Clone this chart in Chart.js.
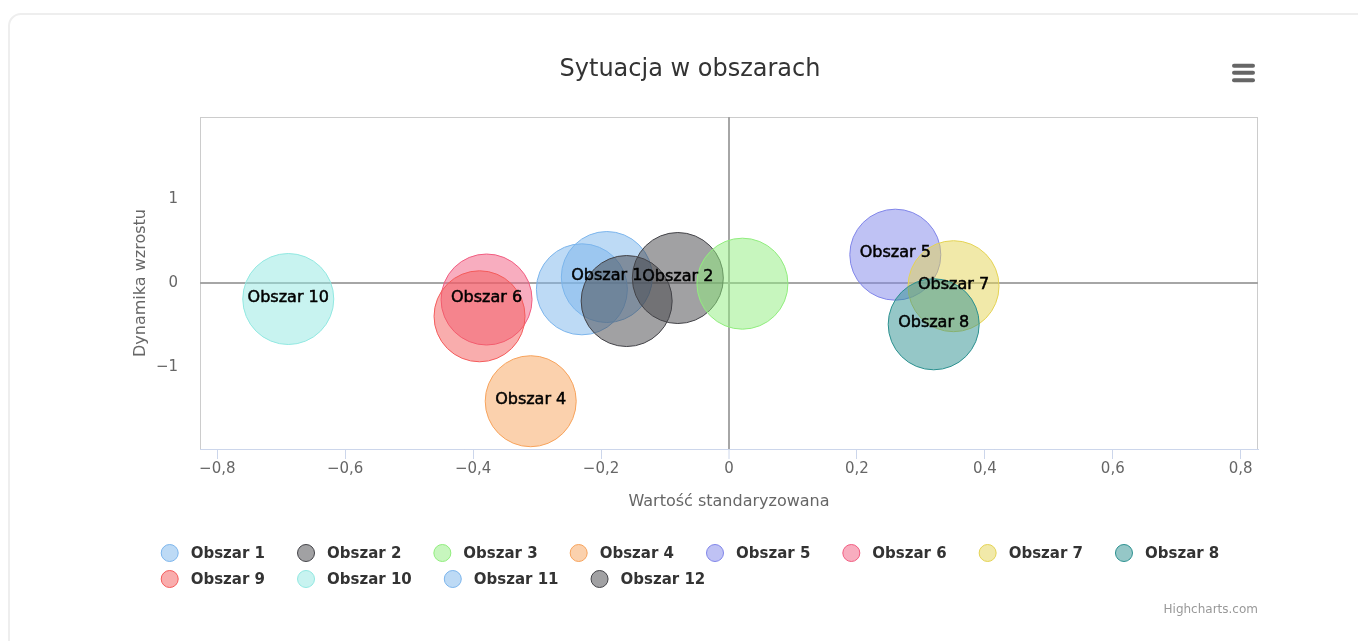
<!DOCTYPE html>
<html>
<head>
<meta charset="utf-8">
<title>Sytuacja w obszarach</title>
<script src="https://cdn.jsdelivr.net/npm/chart.js@4/dist/chart.umd.min.js"></script>
<style>
    html, body {
        margin: 0;
        padding: 0;
        background: #ffffff;
        overflow: hidden;
    }

    .card {
        position: absolute;
        left: 8px;
        top: 13px;
        width: 1420px;
        height: 720px;
        border: 2px solid #eeeeee;
        border-radius: 13px;
        background: #ffffff;
    }

    #bubbleChart {
        position: absolute;
        left: 0;
        top: 0;
    }
</style>
</head>
<body>

<div class="card"></div>
<canvas id="bubbleChart" width="1358" height="641"></canvas>

<script>
const areaNames = [
    "Obszar 1", "Obszar 2", "Obszar 3", "Obszar 4",
    "Obszar 5", "Obszar 6", "Obszar 7", "Obszar 8",
    "Obszar 9", "Obszar 10", "Obszar 11", "Obszar 12"
];

// standardised value (x)
const standardValues = [
    -0.191, -0.080, 0.021, -0.310,
    0.260, -0.379, 0.351, 0.320,
    -0.390, -0.689, -0.230, -0.160
];

// growth dynamics (y)
const growthValues = [
    0.071, 0.059, -0.008, -1.403,
    0.336, -0.196, -0.038, -0.490,
    -0.395, -0.190, -0.075, -0.214
];

// bubble size
const bubbleSizes = [
    45.5, 45.5, 45.5, 45.5,
    45.5, 45.5, 45.5, 45.5,
    45.5, 45.5, 45.5, 45.5
];

const xTicks = [-0.8, -0.6, -0.4, -0.2, 0, 0.2, 0.4, 0.6, 0.8];
const yTicks = [-1, 0, 1];

const seriesColors = [
    "#7cb5ec", "#434348", "#90ed7d", "#f7a35c",
    "#8085e9", "#f15c80", "#e4d354", "#2b908f",
    "#f45b5b", "#91e8e1", "#7cb5ec", "#434348"
];

const FONT = "'DejaVu Sans', sans-serif";


function fade(hex, alpha) {
    const n = parseInt(hex.slice(1), 16);
    return `rgba(${(n >> 16) & 255}, ${(n >> 8) & 255}, ${n & 255}, ${alpha})`;
}

function plNumber(v) {
    if (v === 0) return "0";
    const txt = Math.abs(v).toFixed(Number.isInteger(v) ? 0 : 1).replace(".", ",");
    return (v < 0 ? "\u2212" : "") + txt;
}


// plot frame, bubble labels, legend, menu icon, credits
const highchartsLook = {
    id: "highchartsLook",

    beforeDraw(chart) {
        const {ctx, chartArea: a} = chart;
        ctx.save();
        ctx.strokeStyle = "#cccccc";
        ctx.lineWidth = 1;
        ctx.strokeRect(a.left + 0.5, a.top + 0.5, a.right - a.left - 1, a.bottom - a.top);
        ctx.restore();
    },

    afterDatasetsDraw(chart) {
        const ctx = chart.ctx;
        const taken = [];

        ctx.save();
        ctx.font = `16px ${FONT}`;
        ctx.textAlign = "center";
        ctx.textBaseline = "middle";
        ctx.fillStyle = "#000000";
        ctx.strokeStyle = "#000000";
        ctx.lineWidth = 0.5;

        // labels that would overlap an earlier one are skipped
        chart.data.datasets.forEach((ds, i) => {
            const pt = chart.getDatasetMeta(i).data[0];
            const w = ctx.measureText(ds.label).width - 4;
            const box = {l: pt.x - w / 2, r: pt.x + w / 2, t: pt.y - 14, b: pt.y + 14};
            const hit = taken.some(o => box.l < o.r && box.r > o.l && box.t < o.b && box.b > o.t);
            if (hit) return;
            taken.push(box);
            ctx.fillText(ds.label, pt.x, pt.y - 1.5);
            ctx.strokeText(ds.label, pt.x, pt.y - 1.5);
        });
        ctx.restore();
    },

    afterDraw(chart) {
        const ctx = chart.ctx;
        const datasets = chart.data.datasets;

        // legend, rows left aligned inside a centred block
        ctx.save();
        ctx.font = `bold 15px ${FONT}`;
        const items = datasets.map(ds => ({
            ds: ds,
            w: 30 + ctx.measureText(ds.label).width
        }));
        const gap = 32;
        const rows = [[]];
        let used = 0;
        items.forEach(it => {
            const add = (rows[rows.length - 1].length ? gap : 0) + it.w;
            if (used + add > 1100 && rows[rows.length - 1].length) {
                rows.push([it]);
                used = it.w;
            } else {
                rows[rows.length - 1].push(it);
                used += add;
            }
        });
        const rowWidth = r => r.reduce((s, it) => s + it.w, 0) + gap * (r.length - 1);
        const blockW = Math.max(...rows.map(rowWidth));
        const left = 690 - blockW / 2;

        ctx.textBaseline = "middle";
        ctx.textAlign = "left";
        rows.forEach((row, ri) => {
            const y = 553 + ri * 26;
            let x = left;
            row.forEach(it => {
                ctx.beginPath();
                ctx.arc(x + 9, y, 8.5, 0, Math.PI * 2);
                ctx.fillStyle = it.ds.backgroundColor;
                ctx.fill();
                ctx.lineWidth = 1;
                ctx.strokeStyle = it.ds.borderColor;
                ctx.stroke();
                ctx.fillStyle = "#333333";
                ctx.fillText(it.ds.label, x + 30, y + 1);
                x += it.w + gap;
            });
        });

        // export menu icon
        ctx.strokeStyle = "#666666";
        ctx.lineWidth = 4;
        ctx.lineCap = "round";
        [65.7, 72.8, 80.2].forEach(y => {
            ctx.beginPath();
            ctx.moveTo(1234, y);
            ctx.lineTo(1253, y);
            ctx.stroke();
        });

        // credits
        ctx.font = `12px ${FONT}`;
        ctx.fillStyle = "#999999";
        ctx.textAlign = "right";
        ctx.fillText("Highcharts.com", 1258, 610);
        ctx.restore();
    }
};


const datasets = areaNames.map((name, i) => ({
    label: name,
    data: [{x: standardValues[i], y: growthValues[i], r: bubbleSizes[i]}],
    backgroundColor: fade(seriesColors[i], 0.5),
    borderColor: seriesColors[i],
    borderWidth: 1,
    hoverBorderWidth: 1,
    order: areaNames.length - i
}));


new Chart(
    document.getElementById("bubbleChart"),
    {
        type: "bubble",
        data: {
            datasets: datasets
        },
        plugins: [highchartsLook],
        options: {
            responsive: false,
            animation: false,
            devicePixelRatio: 1,
            layout: {
                padding: {left: 122, right: 100, top: 0, bottom: 126}
            },
            plugins: {
                legend: {display: false},
                tooltip: {enabled: true},
                title: {
                    display: true,
                    text: "Sytuacja w obszarach",
                    color: "#333333",
                    font: {family: FONT, size: 24, weight: "normal"},
                    padding: {top: 55.6, bottom: 32.6}
                }
            },
            scales: {
                x: {
                    type: "linear",
                    min: -0.827,
                    max: 0.827,
                    afterBuildTicks: s => {
                        s.ticks = xTicks.map(v => ({value: v}));
                    },
                    afterFit: s => {
                        s.height = 66;
                    },
                    ticks: {
                        color: "#666666",
                        font: {family: FONT, size: 15},
                        padding: 1,
                        maxRotation: 0,
                        callback: v => plNumber(v)
                    },
                    grid: {
                        drawOnChartArea: true,
                        drawTicks: true,
                        tickLength: 10,
                        tickColor: "#ccd6eb",
                        tickWidth: 1,
                        color: c => c.tick && c.tick.value === 0 ? "#a6a6a6" : "rgba(0,0,0,0)",
                        lineWidth: c => c.tick && c.tick.value === 0 ? 2 : 1
                    },
                    border: {display: true, color: "#ccd6eb", width: 1},
                    title: {
                        display: true,
                        text: "Wartość standaryzowana",
                        color: "#666666",
                        font: {family: FONT, size: 16},
                        padding: {top: 0, bottom: 3.4}
                    }
                },
                y: {
                    type: "linear",
                    min: -1.97,
                    max: 1.97,
                    afterBuildTicks: s => {
                        s.ticks = yTicks.map(v => ({value: v}));
                    },
                    afterFit: s => {
                        s.width = 78;
                    },
                    ticks: {
                        color: "#666666",
                        font: {family: FONT, size: 15},
                        padding: 22,
                        callback: v => plNumber(v)
                    },
                    grid: {
                        drawTicks: false,
                        color: c => c.tick && c.tick.value === 0 ? "#a6a6a6" : "rgba(0,0,0,0)",
                        lineWidth: 2
                    },
                    border: {display: false},
                    title: {
                        display: true,
                        text: "Dynamika wzrostu",
                        color: "#666666",
                        font: {family: FONT, size: 16},
                        padding: {top: 9.4, bottom: 0}
                    }
                }
            }
        }
    }
);
</script>
</body>
</html>
